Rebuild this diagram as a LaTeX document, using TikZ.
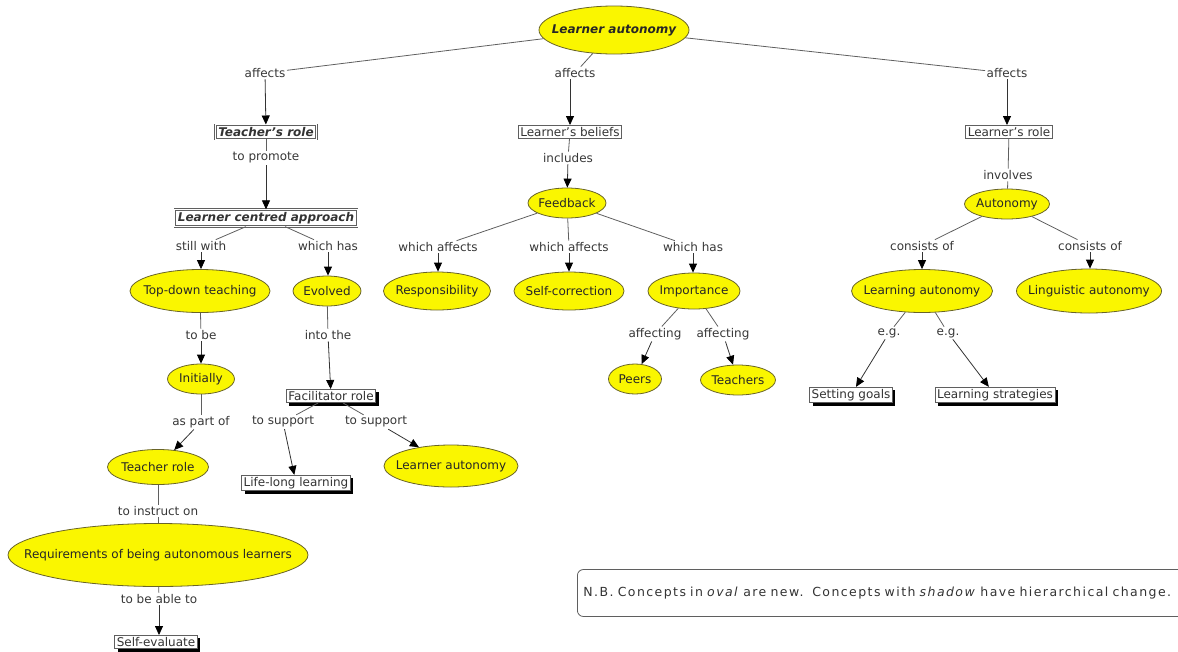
\documentclass[tikz,border=0pt]{standalone}
\usepackage{fontspec}
\setmainfont{DejaVu Sans}
\usetikzlibrary{positioning, arrows.meta, shapes.geometric, shadows}

\definecolor{ovalfill}{RGB}{250,246,0}
\definecolor{ovalline}{RGB}{105,100,40}
\definecolor{linkgray}{RGB}{95,95,95}
\definecolor{textgray}{RGB}{55,55,55}

\begin{document}
\begin{tikzpicture}[x=1pt, y=-1pt, >={Triangle[width=8pt, length=9pt, color=black]},
    every node/.style={font=\fontsize{12}{14}\selectfont},
    link/.style={draw=linkgray, line width=0.8pt},
    arrow/.style={draw=black!80, line width=0.8pt, ->},
    lbl/.style={text=textgray, inner sep=1.5pt},
    oval/.style n args={3}{ellipse, draw=ovalline, line width=0.8pt, fill=ovalfill, minimum width=#1, minimum height=#2, inner sep=0pt, label={[text=black!85]center:#3}},
    plainbox/.style={draw=linkgray, fill=white, inner sep=2pt, text=black!80, line width=0.7pt},
    doublebox/.style={plainbox, double, double distance=1pt, inner xsep=3pt, inner ysep=2.5pt, font=\fontsize{12}{14}\selectfont\bfseries\itshape},
    shadowbox/.style={plainbox, drop shadow={shadow xshift=3pt, shadow yshift=-3pt, fill=black, opacity=1}}]
    \useasboundingbox (0,0) rectangle (1178,651);

    % Root
    \node[oval={150}{48}{\bfseries\itshape Learner autonomy}] (Root) at (614,30) {};
    \node[lbl] (AffectsL) at (265,73) {affects};
    \node[lbl] (AffectsM) at (575,73) {affects};
    \node[lbl] (AffectsR) at (1007,73) {affects};
    \draw[link] (Root) -- (AffectsL);
    \draw[link] (Root) -- (AffectsM);
    \draw[link] (Root) -- (AffectsR);

    % Second level
    \node[doublebox] (TeachersRole) at (266,132) {Teacher's role};
    \node[plainbox] (LearnersBeliefs) at (570,132) {Learner's beliefs};
    \node[plainbox] (LearnersRole) at (1009,132) {Learner's role};
    \draw[arrow] (AffectsL) -- (TeachersRole);
    \draw[arrow] (AffectsM.south -| LearnersBeliefs) -- (LearnersBeliefs);
    \draw[arrow] (AffectsR) -- (AffectsR |- LearnersRole.north);

    % Teacher's role branch
    \node[lbl] (ToPromote) at (266,158) {to promote};
    \node[doublebox] (LCApproach) at (266,218) {Learner centred approach};
    \draw[link] (TeachersRole) -- (ToPromote);
    \draw[arrow] (ToPromote) -- (LCApproach);

    \node[lbl] (StillWith) at (201,246) {still with};
    \node[lbl] (WhichHasL) at (328,246) {which has};
    \draw[link] (LCApproach) -- (StillWith);
    \draw[link] (LCApproach) -- (WhichHasL);
    \node[oval={140}{43}{Top-down teaching}] (TopDown) at (200,291) {};
    \node[oval={68}{30}{Evolved}] (Evolved) at (327,291) {};
    \draw[arrow] (StillWith) -- (StillWith |- TopDown.north);
    \draw[arrow] (WhichHasL) -- (WhichHasL |- Evolved.north);

    \node[lbl] (ToBe) at (201,335) {to be};
    \node[oval={67}{30}{Initially}] (Initially) at (201,379) {};
    \draw[link] (TopDown) -- (ToBe);
    \draw[arrow] (ToBe) -- (Initially);

    \node[lbl] (IntoThe) at (328,335) {into the};
    \node[shadowbox] (Facilitator) at (331,396) {Facilitator role};
    \draw[link] (Evolved) -- (IntoThe);
    \draw[arrow] (IntoThe) -- (Facilitator);

    \node[lbl] (AsPartOf) at (201,422) {as part of};
    \node[oval={101}{35}{Teacher role}] (TeacherRole) at (158,467) {};
    \draw[link] (Initially) -- (AsPartOf);
    \draw[arrow] (AsPartOf) -- (TeacherRole);

    \node[lbl] (SupportL) at (283,422) {to support};
    \node[lbl] (SupportR) at (376,422) {to support};
    \draw[link] (Facilitator) -- (SupportL);
    \draw[link] (Facilitator) -- (SupportR);
    \node[shadowbox] (LifeLong) at (296,483) {Life-long learning};
    \node[oval={134}{42}{Learner autonomy}] (LearnerAut) at (451,466) {};
    \draw[arrow] (SupportL) -- (LifeLong);
    \draw[arrow] (SupportR) -- (LearnerAut);

    \node[lbl] (Instruct) at (158,511) {to instruct on};
    \node[oval={300}{63}{Requirements of being autonomous learners}] (Requirements) at (158,555) {};
    \draw[link] (TeacherRole) -- (Instruct);
    \draw[link] (Instruct) -- (Requirements);

    \node[lbl] (AbleTo) at (159,599) {to be able to};
    \node[shadowbox] (SelfEval) at (156,642) {Self-evaluate};
    \draw[link] (Requirements) -- (AbleTo);
    \draw[arrow] (AbleTo) -- (AbleTo |- SelfEval.north);

    % Learner's beliefs branch
    \node[lbl] (Includes) at (568,158) {includes};
    \node[oval={78}{30}{Feedback}] (Feedback) at (567,203) {};
    \draw[link] (LearnersBeliefs) -- (Includes);
    \draw[arrow] (Includes) -- (Feedback);

    \node[lbl] (WhichAffL) at (438,247) {which affects};
    \node[lbl] (WhichAffM) at (569,247) {which affects};
    \node[lbl] (WhichHasM) at (693,247) {which has};
    \draw[link] (Feedback) -- (WhichAffL);
    \draw[link] (Feedback) -- (WhichAffM);
    \draw[link] (Feedback) -- (WhichHasM);
    \node[oval={107}{38}{Responsibility}] (Responsibility) at (437,291) {};
    \node[oval={110}{38}{Self-correction}] (SelfCorr) at (569,291) {};
    \node[oval={92}{36}{Importance}] (Importance) at (694,291) {};
    \draw[arrow] (WhichAffL) -- (WhichAffL |- Responsibility.north);
    \draw[arrow] (WhichAffM) -- (WhichAffM |- SelfCorr.north);
    \draw[arrow] (WhichHasM) -- (WhichHasM |- Importance.north);

    \node[lbl] (AffectingL) at (655,334) {affecting};
    \node[lbl] (AffectingR) at (723,334) {affecting};
    \draw[link] (Importance) -- (AffectingL);
    \draw[link] (Importance) -- (AffectingR);
    \node[oval={53}{30}{Peers}] (Peers) at (635,379) {};
    \node[oval={75}{30}{Teachers}] (Teachers) at (738,380) {};
    \draw[arrow] (AffectingL) -- (Peers);
    \draw[arrow] (AffectingR) -- (Teachers);

    % Learner's role branch
    \node[lbl] (Involves) at (1008,175) {involves};
    \node[oval={85}{30}{Autonomy}] (Autonomy) at (1007,204) {};
    \draw[link] (LearnersRole) -- (Involves);
    \draw[link] (Involves) -- (Autonomy);

    \node[lbl] (ConsistsL) at (922,246) {consists of};
    \node[lbl] (ConsistsR) at (1090,246) {consists of};
    \draw[link] (Autonomy) -- (ConsistsL);
    \draw[link] (Autonomy) -- (ConsistsR);
    \node[oval={141}{43}{Learning autonomy}] (LearningAut) at (922,291) {};
    \node[oval={145}{44}{Linguistic autonomy}] (LinguisticAut) at (1089,291) {};
    \draw[arrow] (ConsistsL) -- (ConsistsL |- LearningAut.north);
    \draw[arrow] (ConsistsR) -- (ConsistsR |- LinguisticAut.north);

    \node[lbl] (EgL) at (889,333) {e.g.};
    \node[lbl] (EgR) at (948,333) {e.g.};
    \draw[link] (LearningAut) -- (EgL);
    \draw[link] (LearningAut) -- (EgR);
    \node[shadowbox] (SettingGoals) at (851,395) {Setting goals};
    \node[shadowbox] (Strategies) at (995,395) {Learning strategies};
    \draw[arrow] (EgL) -- (SettingGoals);
    \draw[arrow] (EgR) -- (Strategies);

    % Note
    \node[draw=linkgray, line width=0.8pt, rounded corners=6pt, anchor=west, minimum height=47, inner xsep=6pt,
          text width=620pt, align=left, text=black!80,
          font=\fontsize{12.5}{14}\selectfont\addfontfeature{LetterSpace=11.5}] (Note) at (577,593)
        {N.B. Concepts in \textit{oval} are new.\hspace{0.7em}Concepts with \textit{shadow} have hierarchical change.};
\end{tikzpicture}
\end{document}
